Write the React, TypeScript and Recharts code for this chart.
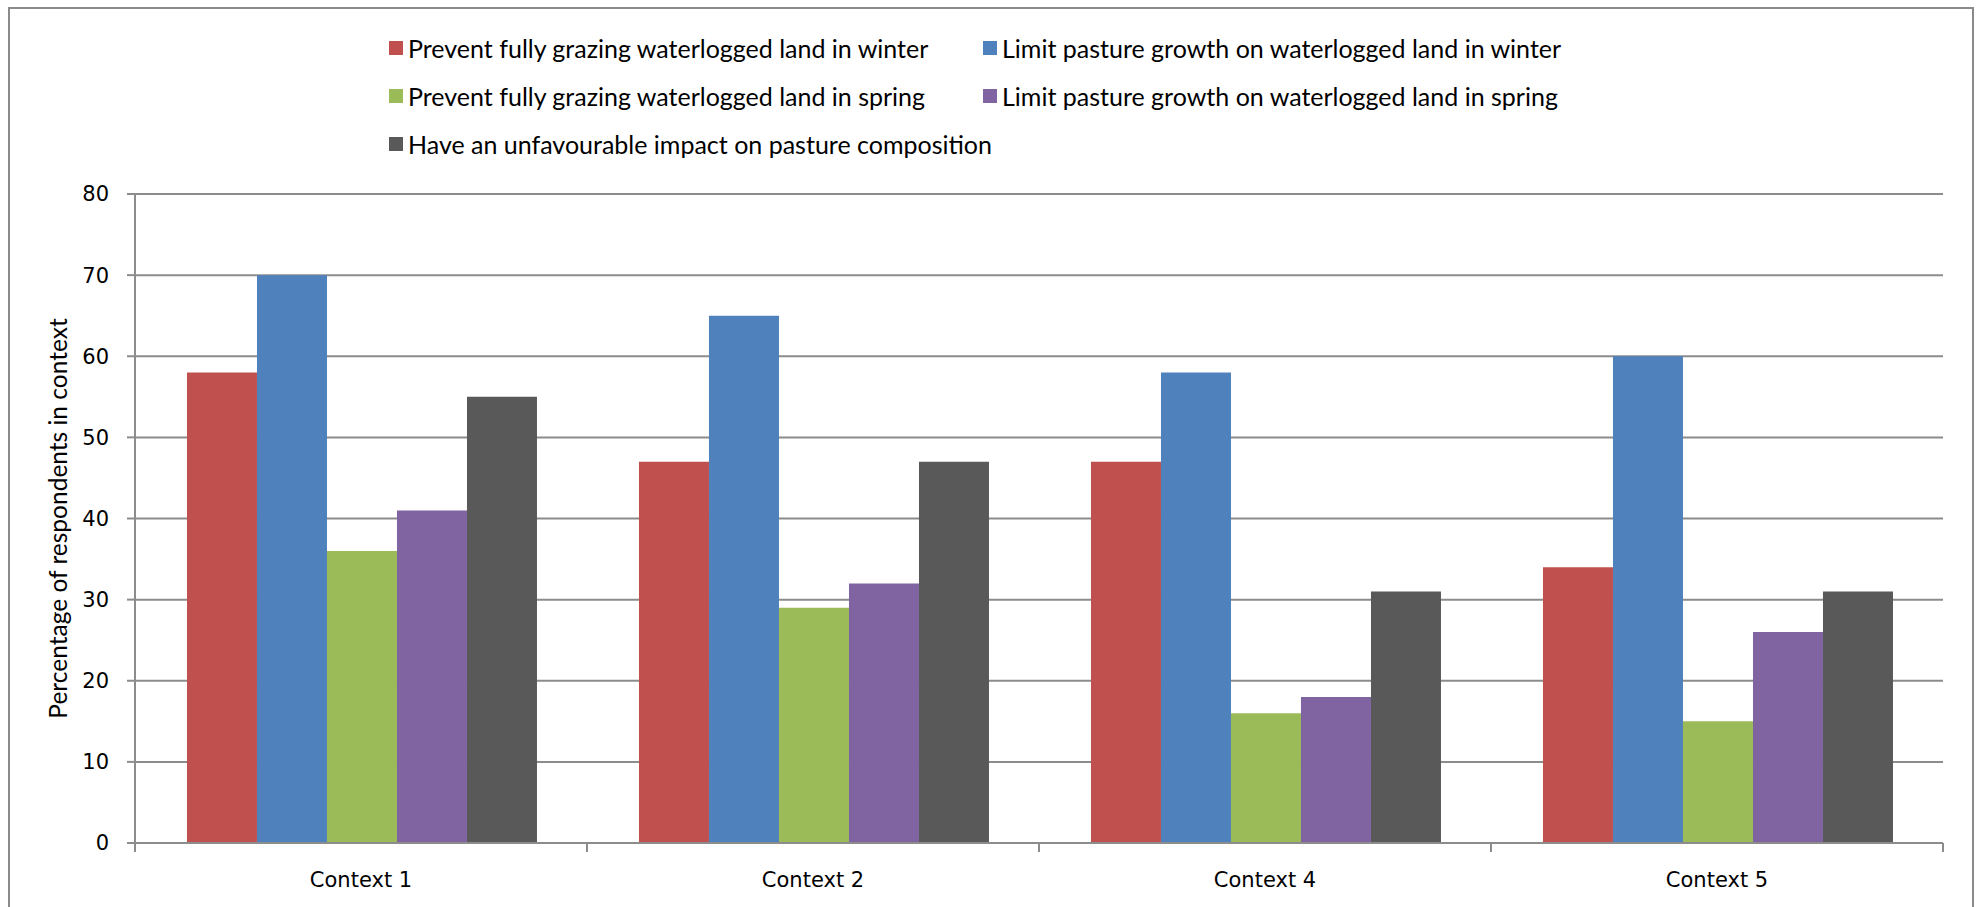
import React from 'react';
import { BarChart, Bar, XAxis, YAxis, CartesianGrid, Legend } from 'recharts';

const categories = ['Context 1', 'Context 2', 'Context 4', 'Context 5'];
const winterGrazing = [58, 47, 47, 34];
const winterGrowth = [70, 65, 58, 60];
const springGrazing = [36, 29, 16, 15];
const springGrowth = [41, 32, 18, 26];
const composition = [55, 47, 31, 31];
const yTicks = [0, 10, 20, 30, 40, 50, 60, 70, 80];

const seriesNames = [
  'Prevent fully grazing waterlogged land in winter',
  'Limit pasture growth on waterlogged land in winter',
  'Prevent fully grazing waterlogged land in spring',
  'Limit pasture growth on waterlogged land in spring',
  'Have an unfavourable impact on pasture composition',
];
const seriesColors = ['#C0504D', '#4F81BD', '#9BBB59', '#8064A2', '#595959'];

const data = categories.map((c, i) => ({
  name: c,
  s0: winterGrazing[i],
  s1: winterGrowth[i],
  s2: springGrazing[i],
  s3: springGrowth[i],
  s4: composition[i],
}));

const GRID = '#8c8c8c';
const LEGEND_FONT = 'Lato, "Open Sans", sans-serif';
const TICK_FONT = '"DejaVu Sans", Verdana, sans-serif';

const renderLegend = (props: any) => {
  const payload = [...(props.payload || [])].sort(
    (a: any, b: any) => seriesNames.indexOf(a.value) - seriesNames.indexOf(b.value)
  );
  return (
    <div
      style={{
        display: 'grid',
        gridTemplateColumns: '594px 700px',
        gridAutoRows: '48px',
        fontFamily: LEGEND_FONT,
        fontSize: 25,
        color: '#000',
      }}
    >
      {payload.map((p: any, i: number) => (
        <div key={i} style={{ display: 'flex', alignItems: 'center', whiteSpace: 'nowrap', overflow: 'visible' }}>
          <span
            style={{
              display: 'inline-block',
              flexShrink: 0,
              width: 14,
              height: 14,
              background: p.color,
              marginRight: 5,
            }}
          />
          <span style={{ flexShrink: 0 }}>{p.value}</span>
        </div>
      ))}
    </div>
  );
};

const XTick = (props: any) => {
  const { x, y, payload } = props;
  const half = payload && payload.offset ? payload.offset : 226;
  return (
    <g>
      <line x1={x - half} x2={x - half} y1={y - 9} y2={y} stroke={GRID} strokeWidth={2} />
      <line x1={x + half} x2={x + half} y1={y - 9} y2={y} stroke={GRID} strokeWidth={2} />
      <text
        x={x}
        y={y + 28}
        textAnchor="middle"
        dominantBaseline="central"
        fontFamily={TICK_FONT}
        fontSize={21}
        fill="#000"
      >
        {payload.value}
      </text>
    </g>
  );
};

const YLabel = (props: any) => {
  const vb = props.viewBox || { x: 0, y: 194, width: 135, height: 649 };
  const cx = vb.x + 57;
  const cy = vb.y + vb.height / 2;
  return (
    <text
      x={cx}
      y={cy}
      transform={`rotate(-90 ${cx} ${cy})`}
      textAnchor="middle"
      dominantBaseline="central"
      fontFamily={LEGEND_FONT}
      fontSize={24.5}
      fill="#000"
    >
      Percentage of respondents in context
    </text>
  );
};

export default function App() {
  return (
    <div
      style={{
        position: 'absolute',
        left: 0,
        top: 0,
        width: 1981,
        height: 907,
        overflow: 'hidden',
        background: '#fff',
      }}
    >
      <div
        style={{
          position: 'absolute',
          left: 8,
          top: 7,
          width: 1966,
          height: 1000,
          border: '2px solid #8a8a8a',
          boxSizing: 'border-box',
        }}
      />
      <div style={{ position: 'absolute', left: 0, top: 0 }}>
        <BarChart
          width={1981}
          height={907}
          data={data}
          margin={{ top: 194, right: 38, bottom: 4, left: 0 }}
          barCategoryGap="11.5%"
          barGap={0}
        >
          <CartesianGrid vertical={false} stroke={GRID} strokeWidth={2} />
          <XAxis
            dataKey="name"
            height={60}
            axisLine={{ stroke: GRID, strokeWidth: 2 }}
            tickLine={false}
            tickSize={9}
            tickMargin={0}
            tick={<XTick />}
            interval={0}
          />
          <YAxis
            width={135}
            domain={[0, 80]}
            ticks={yTicks}
            interval={0}
            axisLine={{ stroke: GRID, strokeWidth: 2 }}
            tickLine={{ stroke: GRID, strokeWidth: 2 }}
            tickSize={8}
            tickMargin={18}
            tick={{ fontFamily: TICK_FONT, fontSize: 21, fill: '#000' }}
            label={{ content: <YLabel /> }}
          />
          <Legend
            layout="horizontal"
            verticalAlign="middle"
            align="center"
            content={renderLegend}
            wrapperStyle={{ left: 389, top: 24, width: 1300, height: 144 }}
          />
          {seriesNames.map((n, i) => (
            <Bar
              key={n}
              dataKey={`s${i}`}
              name={n}
              fill={seriesColors[i]}
              isAnimationActive={false}
            />
          ))}
        </BarChart>
      </div>
    </div>
  );
}
